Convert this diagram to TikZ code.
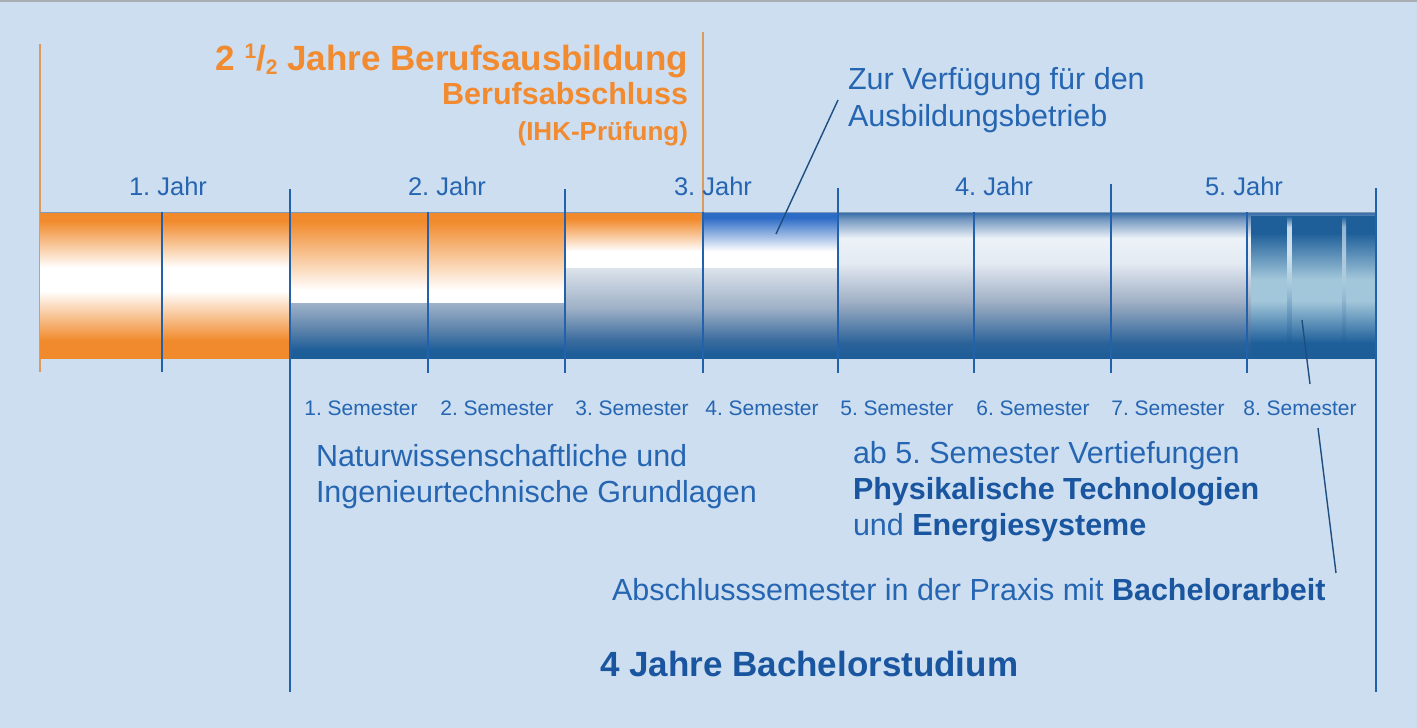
\documentclass[tikz,border=0pt]{standalone}
\usepackage{fontspec}
\setmainfont{Liberation Sans}
\definecolor{bg}{HTML}{CCDEF0}
\definecolor{org}{HTML}{F18A2C}
\definecolor{orgtxt}{HTML}{F28A30}
\definecolor{orgline}{HTML}{DB9A5E}
\definecolor{lineblue}{HTML}{2262AC}
\definecolor{txtblue}{HTML}{2565B2}
\definecolor{boldblue}{HTML}{1A55A0}
\definecolor{connc}{HTML}{1E4D80}
\definecolor{dkblue}{HTML}{1D5D98}
\definecolor{gbA}{HTML}{9FB2C9}
\definecolor{gbB}{HTML}{5A81AA}
\definecolor{lbA}{HTML}{DCE3EB}
\definecolor{lbB}{HTML}{9DB0C6}
\definecolor{lbC}{HTML}{3B6C9E}
\definecolor{brBlue}{HTML}{2C6BC6}
\definecolor{mdA}{HTML}{2F69A5}
\definecolor{mdB}{HTML}{7598C0}
\definecolor{mdC}{HTML}{EDF2F8}
\definecolor{mdD}{HTML}{E4EAF2}
\definecolor{mdE}{HTML}{9EAEC3}
\definecolor{mdF}{HTML}{2A6299}
\definecolor{laA}{HTML}{1E5F9A}
\definecolor{laB}{HTML}{A3C7DA}
\definecolor{stA}{HTML}{E8F1F7}
\definecolor{bartop}{HTML}{7E9AB8}
\definecolor{topgray}{HTML}{A8AEB4}
% vertical shadings: 25bp = bottom of path, 75bp = top of path
\pgfdeclareverticalshading{shOrg}{100bp}{color(0bp)=(org); color(31bp)=(org); color(48bp)=(white); color(56bp)=(white); color(72bp)=(org); color(100bp)=(org)}
\pgfdeclareverticalshading{shOrgW}{100bp}{color(0bp)=(white); color(32bp)=(white); color(70bp)=(org); color(100bp)=(org)}
\pgfdeclareverticalshading{shOrgWb}{100bp}{color(0bp)=(white); color(40bp)=(white); color(69bp)=(org); color(100bp)=(org)}
\pgfdeclareverticalshading{shBW}{100bp}{color(0bp)=(white); color(40bp)=(white); color(70bp)=(brBlue); color(100bp)=(brBlue)}
\pgfdeclareverticalshading{shGB}{100bp}{color(0bp)=(dkblue); color(32bp)=(dkblue); color(50bp)=(gbB); color(75bp)=(gbA); color(100bp)=(gbA)}
\pgfdeclareverticalshading{shLB}{100bp}{color(0bp)=(dkblue); color(27.5bp)=(dkblue); color(35bp)=(lbC); color(52.5bp)=(lbB); color(75bp)=(lbA); color(100bp)=(lbA)}
\pgfdeclareverticalshading{shMid}{100bp}{color(0bp)=(dkblue); color(25bp)=(dkblue); color(30bp)=(mdF); color(44bp)=(mdE); color(57.5bp)=(mdD); color(66bp)=(mdC); color(72.5bp)=(mdB); color(75bp)=(mdA); color(100bp)=(mdA)}
\pgfdeclareverticalshading{shLast}{100bp}{color(0bp)=(dkblue); color(25bp)=(dkblue); color(30bp)=(laA); color(45bp)=(laB); color(52.5bp)=(laB); color(69bp)=(laA); color(75bp)=(laA); color(100bp)=(laA)}
\pgfdeclareverticalshading{shStreak}{100bp}{color(0bp)=(laA); color(25bp)=(laA); color(30bp)=(laA); color(50bp)=(laB); color(62bp)=(stA); color(71bp)=(stA); color(75bp)=(laA); color(100bp)=(laA)}
\tikzset{
  lbl/.style={inner sep=0pt, outer sep=0pt, text=txtblue},
  yearlbl/.style={lbl, anchor=base, font=\fontsize{25.5}{30}\selectfont},
  semlbl/.style={lbl, anchor=base, font=\fontsize{21}{25}\selectfont},
  para/.style={lbl, anchor=base west, font=\fontsize{30.5}{36}\selectfont},
  ttl/.style={inner sep=0pt, outer sep=0pt, anchor=base east, text=orgtxt},
  vline/.style={draw=lineblue, line width=1.6pt},
  oline/.style={draw=orgline, line width=2pt},
  leader/.style={draw=connc, line width=1.4pt},
}
\newcommand{\bb}[1]{\textcolor{boldblue}{\bfseries #1}}
\frenchspacing
\begin{document}
\begin{tikzpicture}[x=1pt,y=-1pt]
\useasboundingbox (0,0) rectangle (1417,728);
\fill[bg] (0,0) rectangle (1417,728);
\draw[topgray, line width=1.5pt] (0,0.75) -- (1417,0.75);

% orange lines (behind bar)
\draw[oline] (40,44) -- (40,372);
\draw[oline] (703,32) -- (703,212);

% bar segments
\shade[shading=shOrg] (40,212) rectangle (290,358);
\shade[shading=shOrgW] (290,212) rectangle (565,303);
\shade[shading=shGB] (290,303) rectangle (565,358);
\shade[shading=shOrgWb] (565,212) rectangle (703,268);
\shade[shading=shBW] (703,212) rectangle (838,268);
\shade[shading=shLB] (565,268) rectangle (838,358);
\shade[shading=shMid] (838,212) rectangle (1376,358);
\shade[shading=shLast] (1251,216) rectangle (1376,357);
\shade[shading=shStreak, opacity=0.85] (1287.5,216) rectangle (1291.5,356);
\shade[shading=shStreak, opacity=0.6] (1342.5,216) rectangle (1346,356);
\draw[bartop, line width=1.2pt] (40,212.5) -- (1376,212.5);

% blue lines
\draw[vline] (162,212) -- (162,372);
\draw[vline] (290,189) -- (290,692);
\draw[vline] (428,212) -- (428,373);
\draw[vline] (565,189) -- (565,373);
\draw[vline] (703,212) -- (703,373);
\draw[vline] (838,188) -- (838,373);
\draw[vline] (974,212) -- (974,373);
\draw[vline] (1111,184) -- (1111,373);
\draw[vline] (1247,212) -- (1247,373);
\draw[vline] (1376,188) -- (1376,692);

% title
\node[ttl, font=\fontsize{35}{40}\selectfont\bfseries] (t1) at (688,70)
  {2 \raisebox{12pt}{\fontsize{21}{21}\selectfont 1}/\raisebox{-5pt}{\fontsize{21}{21}\selectfont 2} Jahre Berufsausbildung};
\node[ttl, font=\fontsize{30.5}{34}\selectfont\bfseries] (t2) at (688,104) {Berufsabschluss};
\node[ttl, font=\fontsize{26}{30}\selectfont\bfseries] (t3) at (688,140) {(IHK-Prüfung)};

% Zur Verfuegung
\node[para] (zv1) at (848,89) {Zur Verfügung für den};
\node[para] (zv2) at (848,126) {Ausbildungsbetrieb};
\coordinate (zvA) at (838,100);
\coordinate (zvB) at (776,234);
\draw[leader] (zvA) -- (zvB);

% year labels
\node[yearlbl] (y1) at (168,195) {1. Jahr};
\node[yearlbl] (y2) at (447,195) {2. Jahr};
\node[yearlbl] (y3) at (713,195) {3. Jahr};
\node[yearlbl] (y4) at (994,195) {4. Jahr};
\node[yearlbl] (y5) at (1244,195) {5. Jahr};

% semester labels
\node[semlbl] (s1) at (361,415) {1. Semester};
\node[semlbl] (s2) at (497,415) {2. Semester};
\node[semlbl] (s3) at (632,415) {3. Semester};
\node[semlbl] (s4) at (762,415) {4. Semester};
\node[semlbl] (s5) at (897,415) {5. Semester};
\node[semlbl] (s6) at (1033,415) {6. Semester};
\node[semlbl] (s7) at (1168,415) {7. Semester};
\node[semlbl] (s8) at (1300,415) {8. Semester};

% texts below
\node[para] (n1) at (316,466) {Naturwissenschaftliche und};
\node[para] (n2) at (316,502) {Ingenieurtechnische Grundlagen};
\node[para] (v1) at (853,463) {ab 5. Semester Vertiefungen};
\node[para] (v2) at (853,499) {\bb{Physikalische Technologien}};
\node[para] (v3) at (853,535) {und \bb{Energiesysteme}};
\node[para] (ab) at (612,600) {Abschlusssemester in der Praxis mit \bb{Bachelorarbeit}};
\node[para, font=\fontsize{35}{40}\selectfont] (bs) at (600,676) {\bb{4 Jahre Bachelorstudium}};

% leader from last semester
\coordinate (lsA) at (1302,320);
\coordinate (lsB) at (1310,384);
\coordinate (lsC) at (1318,428);
\coordinate (lsD) at (1336,573);
\draw[leader] (lsA) -- (lsB);
\draw[leader] (lsC) -- (lsD);
\end{tikzpicture}
\end{document}
